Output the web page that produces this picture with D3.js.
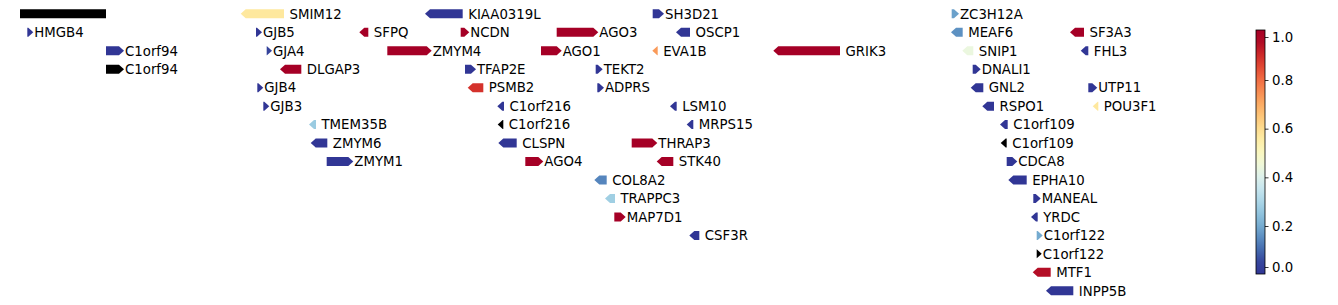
<!DOCTYPE html>
<html>
<head>
<meta charset="utf-8">
<script src="https://cdn.jsdelivr.net/npm/d3@7"></script>
<style>
  body { margin: 0; background: #fff; }
  text { font-family: "DejaVu Sans", sans-serif; }
</style>
</head>
<body>
<div id="chart"></div>
<script>
// gene track data (positions in kb from the window start, row = stacking line)
const geneNames = ["", "HMGB4", "C1orf94", "C1orf94", "SMIM12", "GJB5", "GJA4", "DLGAP3", "GJB4", "GJB3",
  "TMEM35B", "ZMYM6", "ZMYM1", "SFPQ", "ZMYM4", "KIAA0319L", "NCDN", "TFAP2E", "PSMB2", "C1orf216",
  "C1orf216", "CLSPN", "AGO4", "AGO3", "AGO1", "TEKT2", "ADPRS", "COL8A2", "TRAPPC3", "MAP7D1",
  "SH3D21", "OSCP1", "EVA1B", "THRAP3", "STK40", "LSM10", "MRPS15", "CSF3R", "GRIK3", "ZC3H12A",
  "MEAF6", "SNIP1", "DNALI1", "GNL2", "RSPO1", "C1orf109", "C1orf109", "CDCA8", "EPHA10", "MANEAL",
  "YRDC", "C1orf122", "C1orf122", "MTF1", "INPP5B", "SF3A3", "FHL3", "UTP11", "POU3F1"];
const geneStart = [20, 27.3, 106, 106, 240.7, 256, 266.7, 280, 257.3, 263.3,
  309, 310.7, 326.7, 359.3, 387.3, 425, 460.7, 465, 467.7, 497.3,
  497.7, 498.3, 525.3, 556.7, 541, 595.7, 597.3, 594.3, 605, 614.3,
  652.7, 676, 652.3, 631.7, 656.7, 670, 686.7, 689.3, 773.3, 951.7,
  951, 962.3, 972.7, 970.7, 982.3, 1000, 1000.7, 1006.7, 1008.3, 1033.3,
  1031, 1036.7, 1036.7, 1032.7, 1046, 1070, 1080.7, 1088.3, 1092.7];
const geneEnd = [106, 33.3, 124, 124, 284, 262, 272, 301.3, 263.3, 269.3,
  316, 327.3, 353.3, 368.3, 431.7, 462.7, 469.3, 476, 483.3, 504,
  503.3, 516.7, 543.3, 598.3, 561.7, 602.7, 604, 606.7, 615, 625.7,
  664, 690, 657.7, 657.3, 673.3, 676.7, 693.3, 699.3, 840, 959,
  962.7, 973.3, 980.7, 983.3, 994, 1007.7, 1006.7, 1017.3, 1026.7, 1040.7,
  1037.7, 1042.7, 1041.7, 1050.7, 1073.3, 1084, 1088.3, 1097.3, 1098.3];
const geneStrand = [0, 1, 1, 1, -1, 1, 1, -1, 1, 1,
  -1, -1, 1, -1, 1, -1, 1, 1, -1, -1,
  -1, -1, 1, 1, 1, 1, 1, -1, -1, 1,
  1, -1, -1, 1, -1, -1, -1, -1, -1, 1,
  -1, -1, 1, -1, -1, -1, -1, 1, -1, 1,
  -1, 1, 1, -1, -1, -1, -1, 1, -1];
const geneRow = [0, 1, 2, 3, 0, 1, 2, 3, 4, 5,
  6, 7, 8, 1, 2, 0, 1, 3, 4, 5,
  6, 7, 8, 1, 2, 3, 4, 9, 10, 11,
  0, 1, 2, 7, 8, 5, 6, 12, 2, 0,
  1, 2, 3, 4, 5, 6, 7, 8, 9, 10,
  11, 12, 13, 14, 15, 1, 2, 4, 5];
// score per gene; null = no score (drawn black)
const geneScore = [null, 0, 0, null, 0.57, 0, 0.02, 1, 0, 0,
  0.27, 0, 0, 1, 1, 0, 1, 0, 0.9, 0,
  null, 0, 1, 1, 1, 0, 0, 0.13, 0.28, 1,
  0, 0, 0.73, 1, 1, 0, 0, 0, 1, 0.18,
  0.15, 0.44, 0, 0, 0, 0, null, 0, 0, 0,
  0, 0.2, null, 0.97, 0, 1, 0, 0, 0.57];

const colorbarTicks = [0, 0.2, 0.4, 0.6, 0.8, 1.0];

const W = 1338, H = 305;
const svg = d3.select("#chart").append("svg")
  .attr("width", W).attr("height", H);

const x = d3.scaleLinear().domain([0, 1240]).range([0, 1240]);
const y = d3.scaleLinear().domain([0, 15]).range([13.8, 290.8]);
const color = d3.scaleSequential(t => d3.interpolateRdYlBu(1 - t)).domain([0, 1]);

const genes = geneNames.map((n, i) => ({
  name: n, start: geneStart[i], end: geneEnd[i], strand: geneStrand[i],
  row: geneRow[i], score: geneScore[i]
}));

const h = 9, head = 5;
function shape(d) {
  const x0 = x(d.start), x1 = x(d.end), yc = y(d.row);
  const t = yc - h / 2, b = yc + h / 2;
  const hl = Math.min(head, x1 - x0);
  if (d.strand > 0) {
    return `M${x0},${t}L${x1 - hl},${t}L${x1},${yc}L${x1 - hl},${b}L${x0},${b}Z`;
  } else if (d.strand < 0) {
    return `M${x1},${t}L${x0 + hl},${t}L${x0},${yc}L${x0 + hl},${b}L${x1},${b}Z`;
  }
  return `M${x0},${t}L${x1},${t}L${x1},${b}L${x0},${b}Z`;
}

const g = svg.append("g");
g.selectAll("path")
  .data(genes)
  .enter()
  .append("path")
  .attr("d", shape)
  .attr("fill", d => d.score == null ? "#000" : color(d.score));

g.selectAll("text")
  .data(genes.filter(d => d.name))
  .enter()
  .append("text")
  .attr("x", d => x(d.end) + (d.strand > 0 ? 1 : 5.5))
  .attr("y", d => y(d.row))
  .attr("dy", "0.36em")
  .attr("font-size", "13.3px")
  .attr("fill", "#000")
  .text(d => d.name);

// colorbar
const cbX = 1256, cbW = 9, cbTop = 30, cbBot = 274;
const cy = d3.scaleLinear().domain([0, 0.2, 0.8, 1]).range([267, 226, 80, 37]);
const grad = svg.append("defs").append("linearGradient")
  .attr("id", "cb").attr("x1", 0).attr("y1", 1).attr("x2", 0).attr("y2", 0);
d3.range(0, 1.0001, 0.05).forEach(t => {
  grad.append("stop").attr("offset", t).attr("stop-color", color(Math.min(1, Math.max(0, cy.invert(cbBot - t * (cbBot - cbTop))))));
});
svg.append("rect")
  .attr("x", cbX).attr("y", cbTop).attr("width", cbW).attr("height", cbBot - cbTop)
  .attr("fill", "url(#cb)").attr("stroke", "#000").attr("stroke-width", 0.8);

const cbAxis = svg.append("g")
  .attr("transform", `translate(${cbX + cbW},0)`)
  .call(d3.axisRight(cy).tickValues(colorbarTicks).tickFormat(d3.format(".1f")).tickSize(3.5).tickPadding(3.5));
cbAxis.select(".domain").remove();
cbAxis.selectAll("text").attr("font-size", "13.3px").attr("fill", "#000")
  .style("font-family", "DejaVu Sans, sans-serif");
cbAxis.selectAll("line").attr("stroke", "#000").attr("stroke-width", 0.8);
</script>
</body>
</html>
